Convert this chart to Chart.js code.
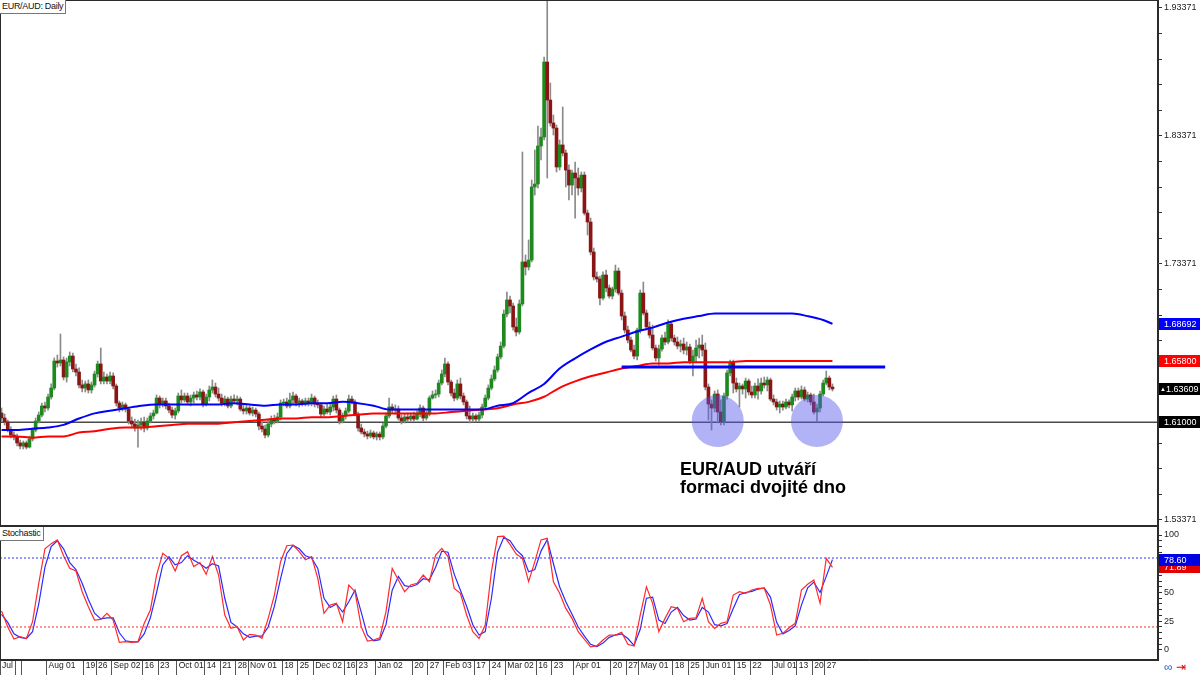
<!DOCTYPE html>
<html lang="cs">
<head>
<meta charset="UTF-8" />
<title>EUR/AUD: Daily</title>
<script src="https://cdn.jsdelivr.net/npm/chart.js"></script>
<style>
  html, body { margin: 0; padding: 0; background: #fff; }
  #wrap { position: relative; width: 1200px; height: 675px; overflow: hidden; font-family: "Liberation Sans", Arial, sans-serif; }
  #priceCanvas { position: absolute; left: 0; top: 0; }
  #stochCanvas { position: absolute; left: 0; top: 526px; }
  .label-box { position: absolute; left: 0; background: #fff; border: 1px solid #777; border-left: 0; border-top: 0; font-size: 9px; letter-spacing: -0.3px; line-height: 13px; padding: 0 2px; color: #111; }
  .note { position: absolute; left: 680px; top: 460px; font: bold 18px/18px "Liberation Sans", Arial, sans-serif; color: #000; }
  .icons { position: absolute; left: 1164px; top: 660px; font-size: 12px; line-height: 14px; }
</style>
</head>
<body>
<div id="wrap">
  <canvas id="priceCanvas" width="1200" height="526"></canvas>
  <canvas id="stochCanvas" width="1200" height="149"></canvas>
  <div class="label-box" style="top:0">EUR/AUD: Daily</div>
  <div class="label-box" style="top:527px">Stochastic</div>
  <div class="note">EUR/AUD utváří<br>formaci dvojité dno</div>
  <div class="icons"><span style="color:#2a5bd7">&#8734;</span> <span style="color:#e00000">&#8677;</span></div>
</div>

<script>
  // daily candles, one per session (Jul 2019 - Jul 2020)
  const opens = [
    1.6173, 1.6134, 1.6103, 1.6040, 1.6001, 1.5986, 1.5939, 1.5915, 1.5939, 1.5907,
    1.5970, 1.6040, 1.6110, 1.6157, 1.6228, 1.6212, 1.6298, 1.6368, 1.6579, 1.6564,
    1.6587, 1.6454, 1.6572, 1.6618, 1.6517, 1.6493, 1.6392, 1.6368, 1.6400, 1.6353,
    1.6392, 1.6478, 1.6556, 1.6423, 1.6454, 1.6423, 1.6462, 1.6384, 1.6251, 1.6212,
    1.6236, 1.6204, 1.6110, 1.6087, 1.6056, 1.6079, 1.6103, 1.6056, 1.6110, 1.6150,
    1.6173, 1.6290, 1.6243, 1.6267, 1.6228, 1.6196, 1.6157, 1.6189, 1.6306, 1.6275,
    1.6306, 1.6259, 1.6290, 1.6314, 1.6298, 1.6337, 1.6243, 1.6298, 1.6353, 1.6376,
    1.6321, 1.6290, 1.6251, 1.6282, 1.6228, 1.6282, 1.6267, 1.6282, 1.6204, 1.6189,
    1.6212, 1.6173, 1.6196, 1.6165, 1.6071, 1.6048, 1.6001, 1.6087, 1.6126, 1.6110,
    1.6142, 1.6251, 1.6259, 1.6228, 1.6275, 1.6306, 1.6251, 1.6267, 1.6243, 1.6267,
    1.6251, 1.6290, 1.6243, 1.6236, 1.6165, 1.6204, 1.6181, 1.6220, 1.6282, 1.6196,
    1.6110, 1.6150, 1.6189, 1.6282, 1.6259, 1.6165, 1.6056, 1.6025, 1.6009, 1.5993,
    1.6017, 1.5986, 1.6009, 1.5986, 1.6071, 1.6150, 1.6220, 1.6196, 1.6204, 1.6134,
    1.6110, 1.6142, 1.6126, 1.6150, 1.6126, 1.6165, 1.6212, 1.6134, 1.6165, 1.6290,
    1.6314, 1.6321, 1.6407, 1.6478, 1.6556, 1.6415, 1.6329, 1.6290, 1.6400, 1.6306,
    1.6259, 1.6150, 1.6126, 1.6150, 1.6126, 1.6157, 1.6220, 1.6290, 1.6368, 1.6439,
    1.6509, 1.6611, 1.6696, 1.6946, 1.7056, 1.7009, 1.6845, 1.6806, 1.7025, 1.7353,
    1.7314, 1.7368, 1.7939, 1.7962, 1.8259, 1.8329, 1.8915, 1.8618, 1.8439, 1.8399,
    1.8095, 1.8267, 1.8204, 1.8071, 1.7954, 1.8048, 1.8009, 1.7931, 1.8032, 1.7735,
    1.7665, 1.7431, 1.7236, 1.7220, 1.7071, 1.7251, 1.7150, 1.7087, 1.7142, 1.7282,
    1.7110, 1.6931, 1.6821, 1.6743, 1.6665, 1.6618, 1.6821, 1.7110, 1.6954, 1.6845,
    1.6782, 1.6681, 1.6603, 1.6673, 1.6759, 1.6728, 1.6868, 1.6759, 1.6728, 1.6696,
    1.6712, 1.6665, 1.6689, 1.6579, 1.6618, 1.6681, 1.6704, 1.6665, 1.6376, 1.6243,
    1.6212, 1.6321, 1.6181, 1.6103, 1.6306, 1.6486, 1.6564, 1.6407, 1.6361, 1.6384,
    1.6361, 1.6423, 1.6337, 1.6314, 1.6384, 1.6345, 1.6407, 1.6392, 1.6431, 1.6282,
    1.6259, 1.6220, 1.6243, 1.6220, 1.6259, 1.6236, 1.6298, 1.6345, 1.6298, 1.6353,
    1.6282, 1.6314, 1.6259, 1.6181, 1.6212, 1.6321, 1.6407, 1.6446, 1.6376
  ];
  const highs = [
    1.6212, 1.6165, 1.6118, 1.6064, 1.6025, 1.6009, 1.5962, 1.5954, 1.5954, 1.5993,
    1.6056, 1.6134, 1.6181, 1.6251, 1.6259, 1.6321, 1.6400, 1.6603, 1.6626, 1.6790,
    1.6611, 1.6603, 1.6650, 1.6642, 1.6556, 1.6525, 1.6431, 1.6423, 1.6431, 1.6415,
    1.6501, 1.6579, 1.6681, 1.6493, 1.6478, 1.6493, 1.6486, 1.6400, 1.6267, 1.6259,
    1.6251, 1.6220, 1.6142, 1.6126, 1.6118, 1.6134, 1.6142, 1.6134, 1.6173, 1.6196,
    1.6314, 1.6306, 1.6290, 1.6290, 1.6251, 1.6220, 1.6212, 1.6329, 1.6353, 1.6329,
    1.6329, 1.6314, 1.6337, 1.6345, 1.6361, 1.6353, 1.6321, 1.6384, 1.6431, 1.6407,
    1.6368, 1.6321, 1.6306, 1.6298, 1.6306, 1.6314, 1.6306, 1.6298, 1.6243, 1.6236,
    1.6228, 1.6220, 1.6212, 1.6181, 1.6103, 1.6079, 1.6118, 1.6150, 1.6157, 1.6173,
    1.6275, 1.6282, 1.6290, 1.6329, 1.6337, 1.6321, 1.6290, 1.6282, 1.6290, 1.6290,
    1.6321, 1.6306, 1.6275, 1.6251, 1.6228, 1.6243, 1.6243, 1.6306, 1.6314, 1.6212,
    1.6173, 1.6212, 1.6314, 1.6306, 1.6275, 1.6181, 1.6087, 1.6048, 1.6032, 1.6040,
    1.6032, 1.6025, 1.6025, 1.6095, 1.6173, 1.6290, 1.6243, 1.6236, 1.6228, 1.6157,
    1.6165, 1.6173, 1.6173, 1.6181, 1.6189, 1.6236, 1.6228, 1.6189, 1.6306, 1.6345,
    1.6353, 1.6431, 1.6509, 1.6603, 1.6572, 1.6431, 1.6361, 1.6431, 1.6446, 1.6329,
    1.6275, 1.6228, 1.6173, 1.6165, 1.6181, 1.6243, 1.6314, 1.6392, 1.6470, 1.6540,
    1.6634, 1.6728, 1.6978, 1.7118, 1.7087, 1.7032, 1.6915, 1.7056, 1.8212, 1.7408,
    1.7525, 1.7993, 1.8228, 1.8415, 1.8399, 1.8954, 1.9660, 1.8751, 1.8501, 1.8423,
    1.8306, 1.8564, 1.8228, 1.8111, 1.8071, 1.8134, 1.8087, 1.8056, 1.8056, 1.7759,
    1.7696, 1.7462, 1.7275, 1.7243, 1.7275, 1.7290, 1.7173, 1.7157, 1.7329, 1.7306,
    1.7134, 1.6962, 1.6853, 1.6767, 1.6704, 1.6837, 1.7134, 1.7196, 1.6978, 1.6884,
    1.6860, 1.6704, 1.6704, 1.6782, 1.6806, 1.6900, 1.6884, 1.6782, 1.6767, 1.6743,
    1.6759, 1.6728, 1.6712, 1.6665, 1.6743, 1.6759, 1.6782, 1.6720, 1.6400, 1.6275,
    1.6345, 1.6353, 1.6275, 1.6329, 1.6509, 1.6587, 1.6587, 1.6446, 1.6407, 1.6400,
    1.6446, 1.6439, 1.6384, 1.6407, 1.6439, 1.6446, 1.6454, 1.6454, 1.6446, 1.6314,
    1.6282, 1.6267, 1.6267, 1.6282, 1.6275, 1.6321, 1.6368, 1.6368, 1.6384, 1.6376,
    1.6337, 1.6329, 1.6321, 1.6243, 1.6345, 1.6431, 1.6501, 1.6462, 1.6400
  ];
  const lows = [
    1.6110, 1.6079, 1.6025, 1.5978, 1.5962, 1.5915, 1.5892, 1.5892, 1.5892, 1.5900,
    1.5954, 1.6025, 1.6095, 1.6142, 1.6181, 1.6196, 1.6282, 1.6353, 1.6532, 1.6540,
    1.6431, 1.6415, 1.6540, 1.6493, 1.6462, 1.6368, 1.6337, 1.6337, 1.6329, 1.6329,
    1.6376, 1.6454, 1.6400, 1.6400, 1.6400, 1.6400, 1.6361, 1.6228, 1.6181, 1.6189,
    1.6181, 1.6087, 1.6056, 1.6032, 1.5907, 1.6040, 1.6025, 1.6040, 1.6095, 1.6126,
    1.6165, 1.6212, 1.6220, 1.6204, 1.6173, 1.6134, 1.6126, 1.6173, 1.6251, 1.6259,
    1.6236, 1.6228, 1.6251, 1.6275, 1.6275, 1.6220, 1.6228, 1.6267, 1.6329, 1.6298,
    1.6267, 1.6228, 1.6228, 1.6212, 1.6212, 1.6243, 1.6236, 1.6189, 1.6165, 1.6165,
    1.6157, 1.6150, 1.6142, 1.6040, 1.6025, 1.5978, 1.5986, 1.6064, 1.6087, 1.6095,
    1.6118, 1.6228, 1.6212, 1.6212, 1.6243, 1.6228, 1.6220, 1.6228, 1.6228, 1.6228,
    1.6228, 1.6220, 1.6212, 1.6142, 1.6150, 1.6165, 1.6157, 1.6189, 1.6173, 1.6087,
    1.6095, 1.6126, 1.6173, 1.6243, 1.6150, 1.6032, 1.6009, 1.5986, 1.5970, 1.5978,
    1.5970, 1.5962, 1.5962, 1.5970, 1.6056, 1.6134, 1.6173, 1.6165, 1.6118, 1.6087,
    1.6095, 1.6103, 1.6110, 1.6110, 1.6118, 1.6142, 1.6110, 1.6118, 1.6150, 1.6282,
    1.6290, 1.6298, 1.6392, 1.6454, 1.6392, 1.6306, 1.6267, 1.6275, 1.6282, 1.6236,
    1.6126, 1.6095, 1.6103, 1.6103, 1.6110, 1.6134, 1.6204, 1.6275, 1.6353, 1.6423,
    1.6493, 1.6595, 1.6681, 1.6923, 1.6954, 1.6821, 1.6775, 1.6790, 1.7009, 1.7251,
    1.7290, 1.7353, 1.7876, 1.7931, 1.8150, 1.8306, 1.8009, 1.8415, 1.8345, 1.8056,
    1.8071, 1.8181, 1.7939, 1.7837, 1.7876, 1.7696, 1.7876, 1.7900, 1.7720, 1.7564,
    1.7408, 1.7212, 1.7196, 1.7017, 1.7056, 1.7118, 1.7071, 1.7064, 1.7118, 1.7095,
    1.6900, 1.6798, 1.6720, 1.6650, 1.6595, 1.6587, 1.6798, 1.6939, 1.6821, 1.6759,
    1.6665, 1.6579, 1.6548, 1.6657, 1.6704, 1.6712, 1.6735, 1.6704, 1.6673, 1.6650,
    1.6634, 1.6626, 1.6556, 1.6462, 1.6572, 1.6603, 1.6618, 1.6353, 1.6118, 1.6040,
    1.6181, 1.6095, 1.6079, 1.6079, 1.6282, 1.6462, 1.6329, 1.6337, 1.6220, 1.6321,
    1.6290, 1.6314, 1.6290, 1.6290, 1.6282, 1.6321, 1.6368, 1.6345, 1.6267, 1.6236,
    1.6196, 1.6173, 1.6196, 1.6204, 1.6212, 1.6189, 1.6267, 1.6275, 1.6282, 1.6267,
    1.6259, 1.6236, 1.6165, 1.6103, 1.6181, 1.6306, 1.6392, 1.6353, 1.6345
  ];
  const closes = [
    1.6134, 1.6103, 1.6040, 1.6001, 1.5986, 1.5939, 1.5915, 1.5939, 1.5907, 1.5970,
    1.6040, 1.6110, 1.6157, 1.6228, 1.6212, 1.6298, 1.6368, 1.6579, 1.6564, 1.6587,
    1.6454, 1.6572, 1.6618, 1.6517, 1.6493, 1.6392, 1.6368, 1.6400, 1.6353, 1.6392,
    1.6478, 1.6556, 1.6423, 1.6454, 1.6423, 1.6462, 1.6384, 1.6251, 1.6212, 1.6236,
    1.6204, 1.6110, 1.6087, 1.6056, 1.6079, 1.6103, 1.6056, 1.6110, 1.6150, 1.6173,
    1.6290, 1.6243, 1.6267, 1.6228, 1.6196, 1.6157, 1.6189, 1.6306, 1.6275, 1.6306,
    1.6259, 1.6290, 1.6314, 1.6298, 1.6337, 1.6243, 1.6298, 1.6353, 1.6376, 1.6321,
    1.6290, 1.6251, 1.6282, 1.6228, 1.6282, 1.6267, 1.6282, 1.6204, 1.6189, 1.6212,
    1.6173, 1.6196, 1.6165, 1.6071, 1.6048, 1.6001, 1.6087, 1.6126, 1.6110, 1.6142,
    1.6251, 1.6259, 1.6228, 1.6275, 1.6306, 1.6251, 1.6267, 1.6243, 1.6267, 1.6251,
    1.6290, 1.6243, 1.6236, 1.6165, 1.6204, 1.6181, 1.6220, 1.6282, 1.6196, 1.6110,
    1.6150, 1.6189, 1.6282, 1.6259, 1.6165, 1.6056, 1.6025, 1.6009, 1.5993, 1.6017,
    1.5986, 1.6009, 1.5986, 1.6071, 1.6150, 1.6220, 1.6196, 1.6204, 1.6134, 1.6110,
    1.6142, 1.6126, 1.6150, 1.6126, 1.6165, 1.6212, 1.6134, 1.6165, 1.6290, 1.6314,
    1.6321, 1.6407, 1.6478, 1.6556, 1.6415, 1.6329, 1.6290, 1.6400, 1.6306, 1.6259,
    1.6150, 1.6126, 1.6150, 1.6126, 1.6157, 1.6220, 1.6290, 1.6368, 1.6439, 1.6509,
    1.6611, 1.6696, 1.6946, 1.7056, 1.7009, 1.6845, 1.6806, 1.7025, 1.7353, 1.7314,
    1.7368, 1.7939, 1.7962, 1.8259, 1.8329, 1.8915, 1.8618, 1.8439, 1.8399, 1.8095,
    1.8267, 1.8204, 1.8071, 1.7954, 1.8048, 1.8009, 1.7931, 1.8032, 1.7735, 1.7665,
    1.7431, 1.7236, 1.7220, 1.7071, 1.7251, 1.7150, 1.7087, 1.7142, 1.7282, 1.7110,
    1.6931, 1.6821, 1.6743, 1.6665, 1.6618, 1.6821, 1.7110, 1.6954, 1.6845, 1.6782,
    1.6681, 1.6603, 1.6673, 1.6759, 1.6728, 1.6868, 1.6759, 1.6728, 1.6696, 1.6712,
    1.6665, 1.6689, 1.6579, 1.6618, 1.6681, 1.6704, 1.6665, 1.6376, 1.6243, 1.6212,
    1.6321, 1.6181, 1.6103, 1.6306, 1.6486, 1.6564, 1.6407, 1.6361, 1.6384, 1.6361,
    1.6423, 1.6337, 1.6314, 1.6384, 1.6345, 1.6407, 1.6392, 1.6431, 1.6282, 1.6259,
    1.6220, 1.6243, 1.6220, 1.6259, 1.6236, 1.6298, 1.6345, 1.6298, 1.6353, 1.6282,
    1.6314, 1.6259, 1.6181, 1.6212, 1.6321, 1.6407, 1.6446, 1.6376, 1.6361
  ];

  // moving averages, read every 5 sessions
  const maIdx = [0, 5, 10, 15, 20, 25, 30, 35, 40, 45, 50, 55, 60, 65, 70, 75, 80, 85, 90, 95,
    100, 105, 110, 115, 120, 125, 130, 135, 140, 145, 150, 155, 160, 165, 170, 175, 180, 185, 190, 195,
    200, 205, 210, 215, 220, 225, 230, 235, 240, 245, 250, 255, 260, 265, 268];
  const maBlue = [1.604, 1.604, 1.605, 1.606, 1.608, 1.613, 1.617, 1.619, 1.621, 1.623,
    1.624, 1.624, 1.624, 1.624, 1.624, 1.625, 1.624, 1.623, 1.624, 1.624,
    1.625, 1.625, 1.626, 1.625, 1.623, 1.620, 1.620, 1.620, 1.620, 1.620,
    1.620, 1.620, 1.623, 1.625, 1.633, 1.640, 1.652, 1.660, 1.667, 1.673,
    1.677, 1.681, 1.684, 1.688, 1.691, 1.693, 1.695, 1.695, 1.695, 1.695,
    1.695, 1.695, 1.693, 1.690, 1.68692];
  const maRed = [1.599, 1.599, 1.598, 1.599, 1.599, 1.602, 1.603, 1.605, 1.606, 1.606,
    1.607, 1.608, 1.609, 1.609, 1.609, 1.610, 1.611, 1.612, 1.613, 1.613,
    1.614, 1.614, 1.615, 1.616, 1.617, 1.617, 1.617, 1.617, 1.617, 1.618,
    1.619, 1.620, 1.621, 1.624, 1.626, 1.630, 1.637, 1.642, 1.646, 1.649,
    1.652, 1.654, 1.656, 1.656, 1.657, 1.657, 1.657, 1.657, 1.658, 1.658,
    1.658, 1.658, 1.658, 1.658, 1.658];

  // stochastic, read every 2nd session
  const stochStep = 2;
  const stochK = [33.9, 20, 9.5, 11.6, 10, 24.6, 58, 88, 92.5, 95.7,
    82, 71, 68.7, 50.7, 37.7, 26, 26.6, 31.9, 26, 6.7,
    7.2, 6.7, 7.2, 23, 34.8, 65.2, 84, 79.7, 68.7, 82,
    85.5, 72.5, 76, 65.8, 81.2, 65.2, 30.4, 18.8, 20.3, 8.7,
    13.6, 13, 10.1, 27.5, 47.8, 76.8, 90.7, 91.3, 85.5, 78.5,
    81.2, 62.3, 31.9, 39.1, 40.6, 24.6, 56.5, 50.7, 20.3, 7.8,
    8.7, 10.7, 33.3, 71, 60.9, 50.7, 56.5, 58, 65.2, 59.4,
    82.6, 88.4, 81.2, 53.6, 49.3, 30.4, 15.9, 10.1, 21.7, 68.1,
    98.6, 99, 91.9, 83.5, 79.7, 59.4, 76.8, 95.7, 97.1, 59.4,
    49.3, 36.2, 27.5, 15.9, 9.2, 2.8, 3.7, 8.7, 13, 13,
    15.4, 4.9, 3.4, 30.4, 55, 40.6, 15.9, 27.5, 37.7, 36.2,
    24.6, 27.5, 28, 44.9, 24.6, 18.8, 23.2, 24.6, 47.8, 50.7,
    49.3, 52.2, 53.6, 53.6, 39.1, 13, 14.5, 19.4, 23.2, 52.2,
    57.1, 60.9, 40.6, 79.7, 71.89];
  const stochD = [31, 24, 14, 11, 10, 16, 40, 72, 90, 95,
    88, 76, 70, 58, 44, 32, 27, 28, 28, 15,
    8, 7, 7, 14, 28, 50, 74, 81, 74, 76,
    82, 78, 75, 71, 75, 73, 45, 24, 20, 14,
    11, 12, 12, 20, 38, 62, 84, 91, 88, 82,
    80, 71, 45, 37, 40, 33, 42, 52, 33, 13,
    8, 9, 22, 52, 64, 56, 55, 57, 62, 61,
    72, 86, 85, 66, 52, 38, 22, 13, 16, 45,
    85, 98, 95, 87, 82, 68, 70, 86, 96, 75,
    55, 42, 31, 20, 12, 5, 3, 6, 11, 13,
    14, 10, 4, 18, 45, 46, 26, 23, 33, 37,
    30, 26, 27, 37, 33, 22, 21, 23, 36, 48,
    50, 51, 53, 54, 46, 24, 14, 17, 21, 39,
    54, 59, 50, 64, 78.6];

  // date axis: session index where each label starts
  const dateIdx = [0, 5, 7, 15, 27, 31, 36, 46, 51, 57, 66, 71, 76, 80, 91, 96, 101, 111, 115, 121,
    133, 138, 143, 153, 158, 163, 173, 178, 185, 197, 202, 206, 217, 222, 227, 237, 242, 249, 257, 262, 266];
  const dateText = ['Jul', '', '', 'Aug 01', '19', '26', 'Sep 02', '16', '23', 'Oct 01', '14', '21', '28', 'Nov 01', '18', '25', 'Dec 02', '16', '23', 'Jan 02',
    '20', '27', 'Feb 03', '17', '24', 'Mar 02', '16', '23', 'Apr 01', '20', '27', 'May 01', '18', '25', 'Jun 01', '15', '22', 'Jul 01', '13', '20', '27'];

  const priceLabels = [1.53371, 1.63371, 1.73371, 1.83371, 1.93371];
  const stochLabels = [0, 25, 50, 75, 100];

  const supportLevel = 1.61;
  const resistanceLevel = 1.6533;
  const resistanceFrom = 200, resistanceTo = 285;
  const bottoms = [{ session: 231, price: 1.611 }, { session: 263, price: 1.611 }];
  const overbought = 80, oversold = 20;
  const lastPrice = 1.63609, lastBlue = 1.68692, lastRed = 1.658, lastK = 71.89, lastD = 78.60;

  const xMin = -0.5, xMax = 373;
  const font = '"Liberation Sans", Arial, sans-serif';
  Chart.defaults.font.family = font;
  Chart.defaults.font.size = 10;
  Chart.defaults.color = '#222';

  const tagPlugin = {
    id: 'tags',
    afterDraw(chart, args, opts) {
      const ctx = chart.ctx, y = chart.scales.y, x0 = chart.chartArea.right + 1;
      ctx.save();
      ctx.textBaseline = 'middle';
      ctx.textAlign = 'left';
      (opts.items || []).forEach(t => {
        const py = Math.round(y.getPixelForValue(t.value));
        ctx.fillStyle = t.bg;
        ctx.fillRect(x0, py - 6, chart.width - x0, 12);
        ctx.fillStyle = '#fff';
        if (t.mark) {
          ctx.font = '6px ' + font;
          ctx.fillText('\u25B2', x0 + 1, py);
        }
        ctx.font = '9px ' + font;
        ctx.fillText(t.text, x0 + (t.mark ? 7 : 5), py + 0.5);
      });
      ctx.restore();
    }
  };

  const framePlugin = {
    id: 'frame',
    afterDatasetsDraw(chart) {
      const { ctx, chartArea: a } = chart;
      ctx.save();
      ctx.strokeStyle = '#2b2b2b';
      ctx.lineWidth = 1;
      ctx.strokeRect(a.left + 0.5, a.top + 0.5, a.right - a.left - 1, a.bottom - a.top - 1);
      ctx.restore();
    }
  };

  const sessions = closes.map((c, i) => i);

  // Price panel
  new Chart(document.getElementById('priceCanvas'), {
    type: 'bar',
    data: {
      datasets: [
        {
          type: 'line', label: '1.61000',
          data: [{ x: xMin, y: supportLevel }, { x: xMax, y: supportLevel }],
          borderColor: '#4a4a4a', borderWidth: 1.5, pointRadius: 0, order: 12
        },
        {
          label: 'Wicks',
          data: sessions.map(i => ({ x: i, y: [lows[i], highs[i]] })),
          backgroundColor: '#8a8a8a', barThickness: 1, grouped: false, order: 11
        },
        {
          label: 'Bodies',
          data: sessions.map(i => ({ x: i, y: [opens[i], closes[i]] })),
          backgroundColor: sessions.map(i => closes[i] >= opens[i] ? '#1d8a1d' : '#8a1515'),
          barThickness: 3, minBarLength: 1, grouped: false, order: 10
        },
        {
          type: 'line', label: 'MA blue',
          data: maIdx.map((x, k) => ({ x, y: maBlue[k] })),
          borderColor: '#0000ff', borderWidth: 2, pointRadius: 0, cubicInterpolationMode: 'monotone', order: 5
        },
        {
          type: 'line', label: 'MA red',
          data: maIdx.map((x, k) => ({ x, y: maRed[k] })),
          borderColor: '#ff0000', borderWidth: 2, pointRadius: 0, cubicInterpolationMode: 'monotone', order: 6
        },
        {
          type: 'line', label: 'Resistance',
          data: [{ x: resistanceFrom, y: resistanceLevel }, { x: resistanceTo, y: resistanceLevel }],
          borderColor: '#0000ff', borderWidth: 3, pointRadius: 0, order: 3
        },
        {
          type: 'scatter', label: 'Double bottom',
          data: bottoms.map(b => ({ x: b.session, y: b.price })),
          pointRadius: 26, pointHoverRadius: 26, borderWidth: 0,
          backgroundColor: 'rgba(85, 85, 235, 0.45)', order: 1
        }
      ]
    },
    options: {
      responsive: false, animation: false, events: [],
      layout: { padding: 0, autoPadding: false },
      plugins: {
        legend: { display: false }, tooltip: { enabled: false },
        tags: {
          items: [
            { value: lastBlue, text: lastBlue.toFixed(5), bg: '#0000ff' },
            { value: lastRed, text: lastRed.toFixed(5), bg: '#ff0000' },
            { value: supportLevel, text: supportLevel.toFixed(5), bg: '#000' },
            { value: lastPrice, text: lastPrice.toFixed(5), bg: '#000', mark: true }
          ]
        }
      },
      scales: {
        x: { type: 'linear', min: xMin, max: xMax, offset: false, display: false },
        y: {
          position: 'right', min: 1.52902, max: 1.93996,
          afterBuildTicks: s => {
            const t = [];
            for (let k = 0; k <= 20; k++) t.push({ value: +(1.53371 + k * 0.02).toFixed(5) });
            s.ticks = t;
          },
          afterFit: s => { s.width = 42; s.paddingTop = 0; s.paddingBottom = 0; },
          grid: { drawOnChartArea: false, tickLength: 4, color: '#333' },
          border: { display: true, color: '#2b2b2b' },
          ticks: {
            padding: 2, autoSkip: false, color: '#222', font: { size: 9 },
            callback: v => priceLabels.some(p => Math.abs(p - v) < 1e-6) ? v.toFixed(5) : ''
          }
        }
      }
    },
    plugins: [framePlugin, tagPlugin]
  });

  // Stochastic panel
  new Chart(document.getElementById('stochCanvas'), {
    type: 'line',
    data: {
      datasets: [
        {
          label: 'Overbought', data: [{ x: xMin, y: overbought }, { x: xMax, y: overbought }],
          borderColor: '#3030ff', borderWidth: 1, borderDash: [2, 2], pointRadius: 0
        },
        {
          label: 'Oversold', data: [{ x: xMin, y: oversold }, { x: xMax, y: oversold }],
          borderColor: '#ff3030', borderWidth: 1, borderDash: [2, 2], pointRadius: 0
        },
        {
          label: '%K', data: stochK.map((v, k) => ({ x: k * stochStep, y: v })),
          borderColor: '#ff2a2a', borderWidth: 1.2, pointRadius: 0
        },
        {
          label: '%D', data: stochD.map((v, k) => ({ x: k * stochStep, y: v })),
          borderColor: '#2a2aff', borderWidth: 1.2, pointRadius: 0
        }
      ]
    },
    options: {
      responsive: false, animation: false, events: [],
      layout: { padding: 0, autoPadding: false },
      plugins: {
        legend: { display: false }, tooltip: { enabled: false },
        tags: {
          items: [
            { value: lastK, text: lastK.toFixed(2), bg: '#e00000' },
            { value: lastD, text: lastD.toFixed(2), bg: '#0000e0' }
          ]
        }
      },
      scales: {
        x: {
          type: 'linear', min: xMin, max: xMax, offset: false,
          afterBuildTicks: s => { s.ticks = dateIdx.map(i => ({ value: i - 0.5 })); },
          afterFit: s => { s.height = 15; s.paddingLeft = 0; s.paddingRight = 0; },
          grid: { drawOnChartArea: false, tickLength: 15, color: '#555' },
          border: { display: true, color: '#2b2b2b' },
          ticks: {
            autoSkip: false, maxRotation: 0, minRotation: 0, align: 'start',
            padding: -14, labelOffset: 2, color: '#222', font: { size: 8.5 },
            callback: (v, k) => dateText[k]
          }
        },
        y: {
          position: 'right', min: -8.7, max: 107.83,
          afterBuildTicks: s => {
            const t = [];
            for (let v = 0; v <= 100; v += 5) t.push({ value: v });
            s.ticks = t;
          },
          afterFit: s => { s.width = 42; s.paddingTop = 0; s.paddingBottom = 0; },
          grid: { drawOnChartArea: false, tickLength: 4, color: '#333' },
          border: { display: true, color: '#2b2b2b' },
          ticks: {
            padding: 2, autoSkip: false, color: '#222', font: { size: 9 },
            callback: v => stochLabels.includes(v) ? String(v) : ''
          }
        }
      }
    },
    plugins: [framePlugin, tagPlugin]
  });
</script>
</body>
</html>
